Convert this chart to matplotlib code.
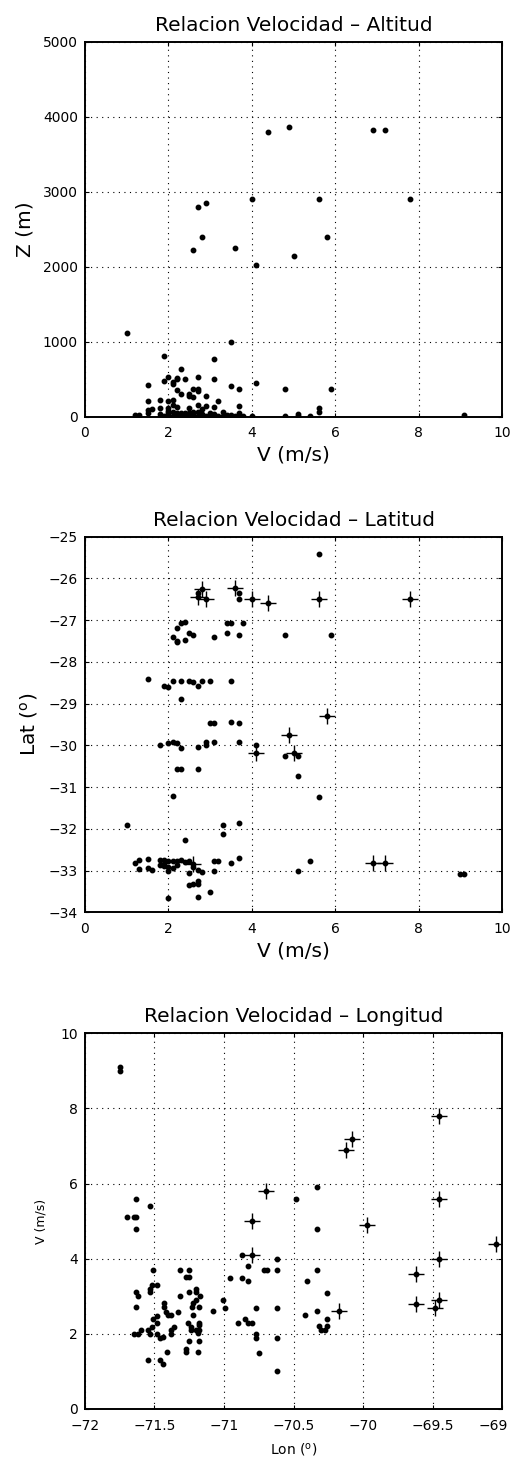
#!/usr/bin/env python3
import matplotlib
matplotlib.use("Agg")
import matplotlib.pyplot as plt
import matplotlib.transforms as mtransforms
import numpy as np

plt.rcParams["font.family"] = ["DejaVu Sans"]
plt.rcParams["mathtext.default"] = "regular"

# --- Velocidad vs Altitud ---
alt_v = [4.4, 4.9, 6.9, 7.2, 2.7, 2.9, 4.0, 5.6, 7.8, 2.8, 5.8, 2.6, 3.6, 5.0, 4.1,
         1.0, 3.5, 1.9, 3.1, 2.3, 2.7, 2.0, 2.2, 2.2, 2.4, 3.1, 1.9, 2.1, 2.1, 4.1,
         1.5, 3.5, 3.7, 4.8, 5.9, 2.6, 2.7, 2.7, 2.2, 2.3, 2.5, 2.5, 2.6, 2.9,
         1.5, 1.8, 2.1, 2.0, 3.2, 2.1, 2.7, 3.7, 3.1, 2.9, 2.2, 1.8, 2.5, 1.6, 2.8,
         5.6, 5.6, 1.5, 1.5, 2.0, 2.0, 1.8, 2.3, 2.4, 2.5, 2.6, 2.7, 2.8, 3.0, 3.1,
         3.3, 3.4, 3.5, 3.7, 3.8, 4.0, 4.8, 5.1, 5.1, 5.4, 9.1, 1.2, 1.3,
         1.9, 2.0, 2.1, 2.2, 2.3, 2.4, 2.5, 2.6, 2.7, 2.8, 2.9, 3.0, 3.1, 3.2, 3.3,
         3.6, 3.7, 2.1, 2.4, 2.6, 2.2, 2.0]
alt_z = [3800, 3870, 3830, 3830, 2800, 2850, 2900, 2900, 2900, 2400, 2400, 2230, 2250, 2150, 2030,
         1115, 1000, 815, 775, 630, 535, 525, 515, 500, 500, 500, 470, 465, 440, 445,
         425, 405, 375, 375, 375, 375, 370, 345, 350, 300, 300, 270, 258, 280,
         205, 220, 220, 210, 210, 150, 155, 145, 135, 140, 130, 115, 120, 100, 100,
         110, 60, 85, 45, 80, 45, 40, 55, 55, 45, 65, 65, 30, 45, 35,
         60, 25, 25, 55, 15, 15, 12, 40, 12, 5, 18, 18, 20,
         10, 5, 15, 5, 10, 20, 15, 10, 5, 10, 15, 5, 10, 12, 8,
         5, 10, 60, 40, 40, 55, 120]

# --- Velocidad vs Latitud ---
lat_v = [5.6,
         2.7, 2.8, 2.9, 3.6, 4.0, 4.4, 5.6, 7.8, 2.7, 3.7, 3.7,
         2.3, 2.4, 2.2, 2.1, 2.2, 2.2, 2.4, 2.5, 2.6, 3.1, 3.4, 3.5, 3.4, 3.8, 3.7, 4.8, 5.9,
         1.5, 1.9, 2.0, 2.1, 2.3, 2.5, 2.6, 2.7, 2.8, 3.0, 3.5, 2.3,
         3.0, 3.1, 3.5, 3.7, 5.8, 4.9, 4.1, 5.0,
         1.8, 2.0, 2.1, 2.2, 2.3, 2.7, 2.9, 2.9, 3.1, 3.7, 4.1, 4.8, 5.1,
         2.2, 2.3, 2.7, 5.1, 2.1, 5.6,
         1.0, 3.3, 3.3, 3.7, 2.4,
         3.7, 3.5, 3.1, 3.2, 5.4, 6.9, 7.2, 5.1, 9.0, 9.1,
         3.0, 2.0, 2.7, 2.5, 2.6, 2.7, 2.7,
         1.2, 1.3, 1.5, 1.8, 1.9, 2.0, 2.1, 2.2, 2.3, 2.4, 2.5, 2.8, 1.3, 1.5, 1.6,
         1.8, 1.9, 1.9, 2.0, 2.0, 2.1, 2.2, 2.5, 2.6, 2.7, 3.1, 2.6]
lat_deg = [-25.41,
           -26.45, -26.25, -26.50, -26.23, -26.50, -26.58, -26.50, -26.50, -26.34, -26.35, -26.50,
           -27.08, -27.05, -27.20, -27.40, -27.50, -27.53, -27.48, -27.30, -27.36, -27.41, -27.07,
           -27.08, -27.30, -27.07, -27.35, -27.35, -27.35,
           -28.40, -28.57, -28.60, -28.46, -28.46, -28.46, -28.49, -28.57, -28.46, -28.47, -28.46, -28.90,
           -29.47, -29.47, -29.44, -29.47, -29.30, -29.76, -30.18, -30.18,
           -30.00, -29.95, -29.91, -29.95, -30.06, -30.04, -29.91, -30.00, -29.91, -29.91, -30.00,
           -30.25, -30.25,
           -30.57, -30.57, -30.57, -30.74, -31.21, -31.25,
           -31.91, -31.91, -32.13, -31.86, -32.26,
           -32.70, -32.81, -32.78, -32.78, -32.78, -32.83, -32.83, -33.02, -33.08, -33.08,
           -33.51, -33.65, -33.63, -33.35, -33.32, -33.32, -33.26,
           -32.82, -32.74, -32.73, -32.76, -32.76, -32.78, -32.78, -32.78, -32.76, -32.80, -32.78,
           -33.04, -32.96, -32.95, -32.98,
           -32.87, -32.90, -32.84, -32.92, -33.02, -32.94, -32.87, -33.06, -32.92, -32.98, -33.02, -32.85]

# estaciones de altura (marcadas con +)
hi_lat_v = [2.7, 2.8, 2.9, 3.6, 4.0, 4.4, 5.6, 7.8, 5.8, 4.9, 4.1, 5.0, 6.9, 7.2, 2.6]
hi_lat_deg = [-26.45, -26.25, -26.50, -26.23, -26.50, -26.58, -26.50, -26.50,
              -29.30, -29.76, -30.18, -30.18, -32.83, -32.83, -32.85]

# --- Velocidad vs Longitud ---
lon_deg = [-71.75, -71.75, -71.63, -71.53, -71.70, -71.65, -71.63, -71.63,
           -70.48, -70.33, -70.33,
           -70.87, -70.83, -70.83, -70.87, -70.96, -70.71, -70.69, -70.62, -70.62,
           -70.33, -70.40, -70.26, -70.33, -70.42, -70.26, -70.32, -70.30, -70.27, -70.26,
           -70.77, -70.62, -70.90, -70.85, -70.83, -70.80, -70.77, -70.77, -70.75, -70.62, -70.62,
           -71.08, -71.01, -70.99,
           -71.51, -71.32, -71.25, -71.27, -71.25,
           -71.52, -71.53, -71.48, -71.63, -71.62, -71.53,
           -71.20, -71.20, -71.17, -71.32, -71.25,
           -71.43, -71.43, -71.42, -71.63, -71.20, -71.22, -71.23, -71.18,
           -71.40, -71.38, -71.33, -71.22,
           -71.51, -71.48, -71.48, -71.26, -71.18, -71.18, -71.24, -71.24, -71.20, -71.18, -71.19,
           -71.55, -71.60, -71.65, -71.62, -71.52, -71.53, -71.48, -71.46, -71.44,
           -71.38, -71.38, -71.36, -71.25, -71.18,
           -71.41, -71.27, -71.27, -71.19, -71.55, -71.46, -71.44]
lon_v = [9.10, 9.00, 5.60, 5.41, 5.11, 5.11, 5.11, 4.80,
         5.60, 5.90, 4.80,
         4.10, 3.80, 3.40, 3.50, 3.50, 3.70, 3.70, 3.70, 4.00,
         3.70, 3.40, 3.10, 2.60, 2.50, 2.40, 2.20, 2.10, 2.10, 2.20,
         2.70, 2.70, 2.30, 2.40, 2.30, 2.30, 2.00, 1.90, 1.50, 1.90, 1.00,
         2.60, 2.90, 2.70,
         3.70, 3.70, 3.70, 3.51, 3.51,
         3.30, 3.19, 3.30, 3.11, 3.01, 3.11,
         3.19, 3.11, 3.01, 3.01, 3.11,
         2.81, 2.71, 2.59, 2.71, 2.90, 2.81, 2.71, 2.71,
         2.50, 2.50, 2.59, 2.50,
         2.40, 2.48, 2.30, 2.30, 2.30, 2.23, 2.19, 2.10, 2.10, 2.10, 2.03,
         2.10, 2.10, 2.00, 2.00, 2.19, 2.00, 2.00, 1.88, 1.91,
         2.00, 2.10, 2.19, 1.81, 1.81,
         1.51, 1.60, 1.51, 1.51, 1.31, 1.31, 1.20]

hi_lon_deg = [-69.45, -70.08, -70.12, -70.70, -69.45, -70.80, -69.97, -69.04,
              -70.80, -69.45, -69.62, -69.62, -69.45, -69.48, -70.17]
hi_lon_v = [7.8, 7.2, 6.9, 5.8, 5.6, 5.0, 4.9, 4.4, 4.1, 4.0, 3.6, 2.8, 2.9, 2.7, 2.6]


def style_axes(ax):
    ax.grid(True, color="k", linestyle=(0, (1, 4)), linewidth=0.8)
    ax.set_axisbelow(True)
    for s in ax.spines.values():
        s.set_linewidth(1.4)
    ax.tick_params(direction="in", length=3, width=0.8, top=True, right=True,
                   labelsize=10)
    ax.tick_params(axis="x", pad=7)
    ax.tick_params(axis="y", pad=5)


fig = plt.figure(figsize=(5.12, 14.61), dpi=100)
dot = dict(linestyle="none", marker="o", markersize=3.2, color="k")
cross = dict(linestyle="none", marker="+", markersize=11, markeredgewidth=1.0, color="k")

ax1 = fig.add_axes([0.166, 0.7148, 0.8145, 0.2565])
ax1.plot(alt_v, alt_z, **dot)
ax1.set_xlim(0, 10)
ax1.set_ylim(0, 5000)
ax1.set_xticks(np.arange(0, 11, 2))
ax1.set_yticks(np.arange(0, 5001, 1000))
style_axes(ax1)
ax1.set_title("Relacion Velocidad \u2013 Altitud", fontsize=14.5, pad=8)
ax1.set_xlabel("V (m/s)", fontsize=14.5, labelpad=4)
ax1.set_ylabel("Z (m)", fontsize=14.5, labelpad=6)

ax2 = fig.add_axes([0.166, 0.3756, 0.8145, 0.2571])
ax2.plot(lat_v, lat_deg, **dot)
ax2.plot(hi_lat_v, hi_lat_deg, **cross)
ax2.set_xlim(0, 10)
ax2.set_ylim(-34, -25)
ax2.set_xticks(np.arange(0, 11, 2))
ax2.set_yticks(np.arange(-34, -24, 1))
style_axes(ax2)
ax2.set_title("Relacion Velocidad \u2013 Latitud", fontsize=14.5, pad=8)
ax2.set_xlabel("V (m/s)", fontsize=14.5, labelpad=4)
ax2.set_ylabel("Lat ($^o$)", fontsize=14.5, labelpad=6)

ax3 = fig.add_axes([0.166, 0.0356, 0.8145, 0.2571])
ax3.plot(lon_deg, lon_v, **dot)
ax3.plot(hi_lon_deg, hi_lon_v, **dot)
ax3.plot(hi_lon_deg, hi_lon_v, **cross)
ax3.set_xlim(-72, -69)
ax3.set_ylim(0, 10)
ax3.set_xticks(np.arange(-72, -68.9, 0.5))
ax3.set_xticklabels(["\u221272", "\u221271.5", "\u221271", "\u221270.5",
                     "\u221270", "\u221269.5", "\u221269"])
ax3.set_yticks(np.arange(0, 11, 2))
style_axes(ax3)
ax3.set_title("Relacion Velocidad \u2013 Longitud", fontsize=14.5, pad=8)
ax3.set_xlabel("Lon ($^o$)", fontsize=10, labelpad=6)
ax3.set_ylabel("V (m/s)", fontsize=9, labelpad=9)

# el ultimo rotulo se sale del borde: correrlo un poco a la izquierda
last = ax3.get_xticklabels()[-1]
last.set_transform(last.get_transform()
                   + mtransforms.ScaledTranslation(-6 / 72, 0, fig.dpi_scale_trans))

fig.savefig("out.png", dpi=100)
